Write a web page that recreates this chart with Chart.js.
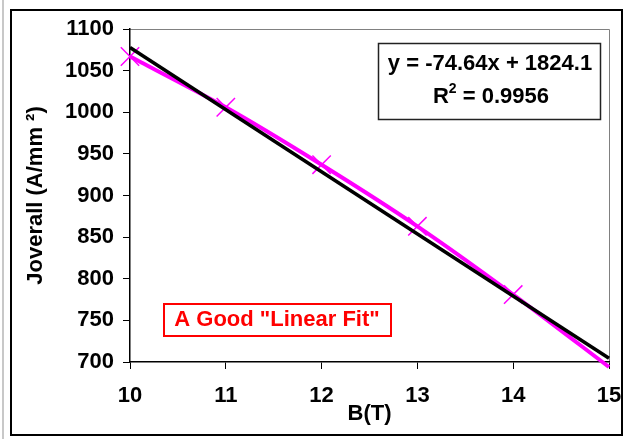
<!DOCTYPE html>
<html>
<head>
<meta charset="utf-8">
<script src="https://cdn.jsdelivr.net/npm/chart.js@4.4.0/dist/chart.umd.min.js"></script>
<style>
  html, body { margin: 0; padding: 0; background: #fff; }
  #wrap { width: 624px; height: 439px; }
</style>
</head>
<body>
<div id="wrap"><canvas id="myChart" width="624" height="439"></canvas></div>
<script>
var fieldB = [10, 11, 12, 13, 14, 15]
var jOverall = [1067, 1006, 937, 863, 781, 694]
var trendB = [10, 15]
var trendJ = [1077.7, 704.5]
var yTicks = [700, 750, 800, 850, 900, 950, 1000, 1050, 1100]
var xTicks = [10, 11, 12, 13, 14, 15]
var eqLine1 = 'y = -74.64x + 1824.1'
var eqLine2 = ' = 0.9956'
var noteText = 'A Good "Linear Fit"'

var fontFam = 'Arial, "Liberation Sans", sans-serif'

function toPoints(xs, ys) {
  return xs.map(function (x, i) { return { x: x, y: ys[i] } })
}

var decor = {
  id: 'decor',
  beforeDraw: function (chart) {
    var ctx = chart.ctx
    ctx.save()
    ctx.fillStyle = '#fff'
    ctx.fillRect(0, 0, chart.width, chart.height)
    // page edge line
    ctx.fillStyle = '#c8c8c8'
    ctx.fillRect(2, 0, 2, chart.height)
    // outer frame
    ctx.strokeStyle = '#000'
    ctx.lineWidth = 2
    ctx.strokeRect(11, 10, 611, 425)
    // plot area frame (top + right)
    var a = chart.chartArea
    ctx.strokeStyle = '#808080'
    ctx.lineWidth = 1
    ctx.beginPath()
    ctx.moveTo(a.left, a.top + 0.5)
    ctx.lineTo(a.right + 0.5, a.top + 0.5)
    ctx.lineTo(a.right + 0.5, a.bottom)
    ctx.stroke()
    ctx.restore()
  },
  afterDraw: function (chart) {
    var ctx = chart.ctx
    ctx.save()
    // equation box
    ctx.fillStyle = '#fff'
    ctx.fillRect(378, 43, 222, 76)
    ctx.strokeStyle = '#222'
    ctx.lineWidth = 1.5
    ctx.strokeRect(378.5, 43.5, 222, 76)
    ctx.fillStyle = '#000'
    ctx.font = 'bold 22px ' + fontFam
    ctx.textBaseline = 'alphabetic'
    ctx.textAlign = 'center'
    ctx.fillText(eqLine1, 490, 70)
    // R^2 line
    ctx.textAlign = 'left'
    var wR = ctx.measureText('R').width
    var wRest = ctx.measureText(eqLine2).width
    ctx.font = 'bold 14px ' + fontFam
    var wSup = ctx.measureText('2').width
    var start = 491 - (wR + wSup + wRest) / 2
    ctx.font = 'bold 22px ' + fontFam
    ctx.fillText('R', start, 103)
    ctx.font = 'bold 14px ' + fontFam
    ctx.fillText('2', start + wR, 93)
    ctx.font = 'bold 22px ' + fontFam
    ctx.fillText(eqLine2, start + wR + wSup, 103)
    // red note
    ctx.strokeStyle = '#ff0000'
    ctx.lineWidth = 2
    ctx.strokeRect(164, 304, 227, 32)
    ctx.fillStyle = '#ff0000'
    ctx.textAlign = 'center'
    ctx.fillText(noteText, 277, 326)
    ctx.restore()
  }
}

var data = {
  datasets: [{
    label: 'Joverall',
    data: toPoints(fieldB, jOverall),
    borderColor: '#ff00ff',
    backgroundColor: '#ff00ff',
    borderWidth: 4,
    tension: 0.25,
    pointStyle: 'crossRot',
    // marker below the axis minimum is cut off, as in the original
    pointRadius: function (c) { return c.raw && c.raw.y < 700 ? 0 : 13 },
    pointBorderWidth: 1.5,
    pointBorderColor: '#ff00ff',
    showLine: true,
    clip: false,
    order: 2
  }, {
    label: 'Linear fit',
    data: toPoints(trendB, trendJ),
    borderColor: '#000',
    borderWidth: 3.5,
    pointRadius: 0,
    showLine: true,
    clip: false,
    order: 1
  }]
}

var tickFont = { family: fontFam, size: 22, weight: 'bold' }
var plainLabel = function (v) { return String(v) }

const config = {
  type: 'scatter',
  data,
  options: {
    responsive: false,
    animation: false,
    layout: { padding: { left: 0, right: 15, top: 29, bottom: 0 } },
    plugins: { legend: { display: false }, tooltip: { enabled: false } },
    scales: {
      x: {
        type: 'linear',
        min: 10,
        max: 15,
        afterBuildTicks: function (s) { s.ticks = xTicks.map(function (v) { return { value: v } }) },
        afterFit: function (s) { s.height = 77; s.paddingRight = 0; s.paddingLeft = 0 },
        ticks: { color: '#000', font: tickFont, padding: 14, maxRotation: 0, callback: plainLabel },
        grid: { drawOnChartArea: false, drawTicks: true, tickLength: 7, color: '#000' },
        border: { color: '#000', width: 1.5 },
        title: { display: true, text: 'B(T)', color: '#000', font: tickFont, padding: { top: 0, bottom: 12 } }
      },
      y: {
        type: 'linear',
        min: 700,
        max: 1100,
        afterBuildTicks: function (s) { s.ticks = yTicks.map(function (v) { return { value: v } }) },
        afterFit: function (s) { s.width = 130 },
        ticks: { color: '#000', font: tickFont, padding: 9, callback: plainLabel },
        grid: { drawOnChartArea: false, drawTicks: true, tickLength: 7, color: '#000' },
        border: { color: '#000', width: 1.5 },
        title: { display: true, text: 'Joverall (A/mm ²)', color: '#000', font: tickFont, padding: { top: 23, bottom: 0 } }
      }
    }
  },
  plugins: [decor]
}

var myChart = new Chart(document.getElementById('myChart'), config)
</script>
</body>
</html>
